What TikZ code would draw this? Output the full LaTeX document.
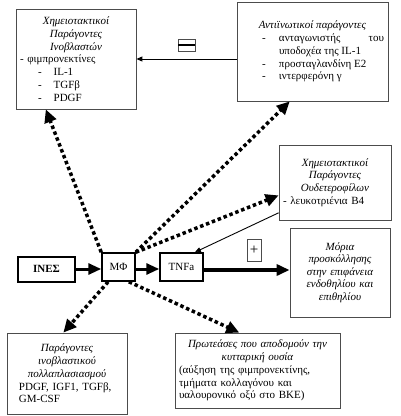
\documentclass[tikz,border=0pt]{standalone}
\usepackage{fontspec}
\setmainfont{Liberation Serif}
\usepackage{tikz}
\usetikzlibrary{arrows.meta, positioning, calc}

\begin{document}
\begin{tikzpicture}[
  x=1pt, y=-1pt,
  box/.style={rectangle, draw=black!70, line width=0.8pt, inner sep=4pt, align=left, font=\fontsize{11}{12.8}\selectfont},
  cell/.style={rectangle, draw=black, line width=1.5pt, inner sep=2pt, minimum height=28pt, font=\fontsize{11}{12.8}\selectfont},
  sign/.style={rectangle, draw=black!70, line width=0.8pt, inner sep=0pt},
  dotarr/.style={-{Triangle[length=13pt, width=12pt]}, line width=3.5pt, dash pattern=on 3.5pt off 2.8pt},
  fatarr/.style={-{Triangle[length=13pt, width=11pt]}, line width=3pt},
  thinarr/.style={-{Triangle[length=6pt, width=5pt]}, line width=0.9pt}
]
\useasboundingbox (0,0) rectangle (400,416);

% boxes of factors
\node[box, text width=112pt, minimum height=100pt] (chemfib) at (76,59) {%
  {\centering\itshape Χημειοτακτικοί\\ Παράγοντες\\ Ινοβλαστών\par}
  - φιμπρονεκτίνες\\
  \hspace*{18pt}-\hspace{12pt}IL-1\\
  \hspace*{18pt}-\hspace{12pt}TGFβ\\
  \hspace*{18pt}-\hspace{12pt}PDGF};
\node[box, align=justify, text width=143pt, minimum height=99pt] (antifib) at (312.5,51.5) {%
  {\centering\itshape Αντιϊνωτικοί παράγοντες\par}
  \leftskip=38pt
  \hspace*{-17pt}\makebox[17pt][l]{-}ανταγωνιστής του υποδοχέα της IL-1\par
  \hspace*{-17pt}\makebox[17pt][l]{-}προσταγλανδίνη E2\par
  \hspace*{-17pt}\makebox[17pt][l]{-}ιντερφερόνη γ\par
  \vspace*{14pt}};
\node[box, text width=104pt, minimum height=75pt] (chemneu) at (335,182.5) {%
  {\centering\itshape Χημειοτακτικοί\\ Παράγοντες\\ Ουδετεροφίλων\par}
  - λευκοτριένια B4\par\vspace*{8pt}};
\node[box, align=center, text width=92pt, minimum height=89pt, font=\fontsize{11}{12.4}\selectfont\itshape] (adhesion) at (340,272.5)
  {Μόρια\\ προσκόλλησης\\ στην επιφάνεια\\ ενδοθηλίου και\\ επιθηλίου};
\node[box, text width=96pt, minimum width=120pt, minimum height=81pt] (growth) at (67,373.5) {%
  {\centering\itshape Παράγοντες\\ ινοβλαστικού\\ πολλαπλασιασμού\par}
  PDGF, IGF1, TGFβ,\\ GM-CSF\par\vspace*{16pt}};
\node[box, text width=157pt, minimum width=165pt, minimum height=75pt] (protease) at (257.5,370.5) {%
  {\centering\itshape Πρωτεάσες που αποδομούν την\\ κυτταρική ουσία\par}
  (αύξηση της φιμπρονεκτίνης,\\ τμήματα κολλαγόνου και\\ υαλουρονικό οξύ στο BKE)};

% main chain
\node[cell, line width=2pt, minimum width=57pt, minimum height=25pt, font=\fontsize{11}{12.8}\selectfont\bfseries] (ines) at (46.5,269) {ΙΝΕΣ};
\node[cell, minimum width=33pt] (mf) at (118.5,267) {ΜΦ};
\node[cell, minimum width=43pt] (tnf) at (181.5,267) {TNFa};

% signs
\node[sign, minimum width=17pt, minimum height=12pt] (minus) at (186.5,45) {\rule{17pt}{2.4pt}};
\node[sign, minimum width=14pt, minimum height=22pt, font=\fontsize{15}{15}\selectfont] (plus) at (254,250) {+};

\draw[fatarr] (ines) -- (ines -| mf.west);
\draw[fatarr] ($(mf.east)+(0,2)$) -- ($(tnf.west)+(0,2)$);
\draw[fatarr, line width=4pt] ($(tnf.east)+(0,3)$) -- ($(tnf.east -| adhesion.west)+(0,3)$);
\draw[thinarr] (antifib.west |- chemfib.east) -- (chemfib.east);
\draw[thinarr] ($(chemneu.north west)!0.9!(chemneu.south west)$) -- ($(tnf.north west)!0.8!(tnf.north east)$);

\draw[dotarr] (mf.north west) -- ($(chemfib.south west)!0.25!(chemfib.south east)$);
\draw[dotarr] (mf.north east) -- ($(antifib.south west)!0.35!(antifib.south east)$);
\draw[dotarr] (mf.north east) -- ($(chemneu.north west)!0.67!(chemneu.south west)$);
\draw[dotarr] ($(mf.south west)!0.2!(mf.south east)$) -- ($(growth.north west)!0.47!(growth.north east)$);
\draw[dotarr] ($(mf.south west)!0.8!(mf.south east)$) -- ($(protease.north west)!0.39!(protease.north east)$);
\end{tikzpicture}
\end{document}
